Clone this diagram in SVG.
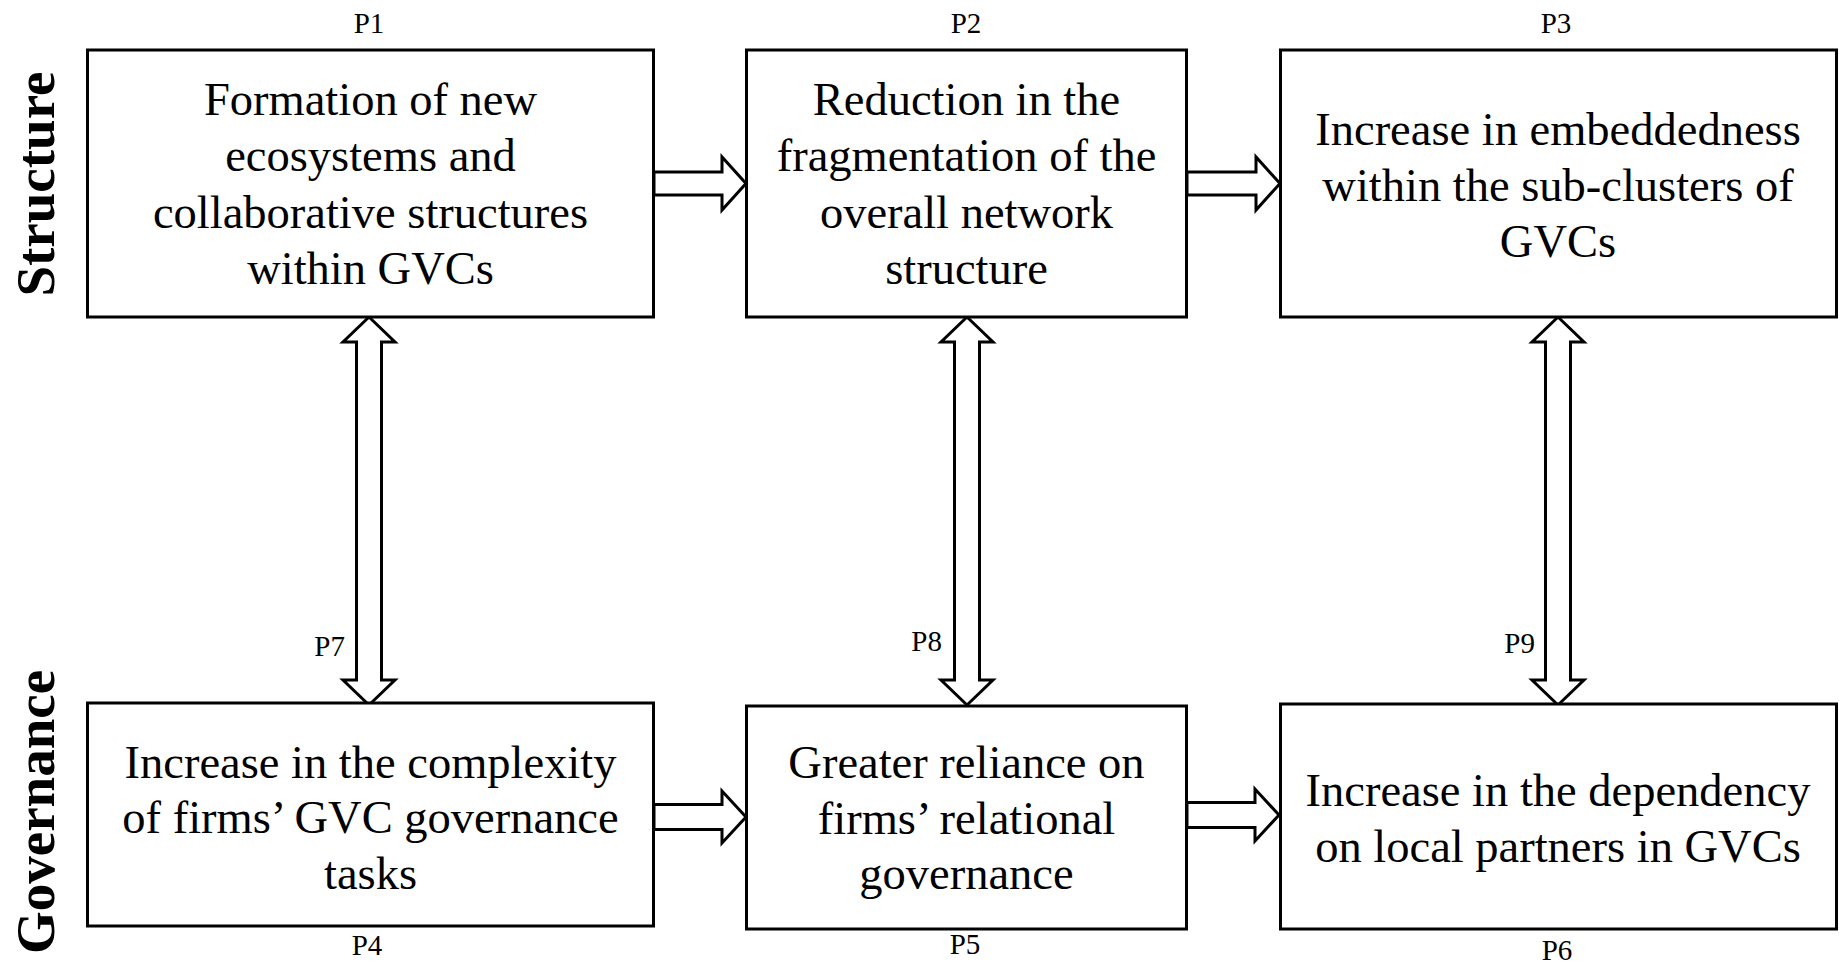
<svg xmlns="http://www.w3.org/2000/svg" width="1839" height="965" viewBox="0 0 1839 965">
<style>
.box{fill:#fff;stroke:#000;stroke-width:3}
.arr{fill:#fff;stroke:#000;stroke-width:3;stroke-linejoin:miter}
.t{font-family:"Liberation Serif","Times New Roman",serif;font-size:46.5px;fill:#000;text-anchor:middle}
.p{font-family:"Liberation Serif","Times New Roman",serif;font-size:29px;fill:#000;text-anchor:middle}
.pr{font-family:"Liberation Serif","Times New Roman",serif;font-size:29px;fill:#000;text-anchor:end}
.side{font-family:"Liberation Serif","Times New Roman",serif;font-size:55px;font-weight:bold;fill:#000;text-anchor:middle}
</style>
<rect width="1839" height="965" fill="#fff"/>
<g id="labels">
<text class="side" transform="translate(54,184) rotate(-90)">Structure</text>
<text class="side" transform="translate(54,812) rotate(-90)">Governance</text>
</g>
<g id="connectors">
<polygon class="arr" points="654,172 722,172 722,157 746,183.5 722,210 722,195 654,195"/>
<polygon class="arr" points="1187,172 1256,172 1256,157 1280,183.5 1256,210 1256,195 1187,195"/>
<polygon class="arr" points="654,804.5 722,804.5 722,791 746,817 722,843 722,829.5 654,829.5"/>
<polygon class="arr" points="1187,802.5 1255,802.5 1255,789 1279,815 1255,841 1255,827.5 1187,827.5"/>
<polygon class="arr" points="369,317 395,342 381.5,342 381.5,680 395,680 369,705 343,680 356.5,680 356.5,342 343,342"/>
<polygon class="arr" points="967,317 993,342 979.5,342 979.5,680 993,680 967,705 941,680 954.5,680 954.5,342 941,342"/>
<polygon class="arr" points="1558,317 1584,342 1570.5,342 1570.5,680 1584,680 1558,705 1532,680 1545.5,680 1545.5,342 1532,342"/>
<text class="pr" x="345" y="656">P7</text>
<text class="pr" x="942" y="651">P8</text>
<text class="pr" x="1535" y="653">P9</text>
</g>
<g id="n1">
<rect class="box" x="87.5" y="50" width="566" height="267"/>
<text class="p" x="369" y="33">P1</text>
<text class="t" x="370.5" y="115">Formation of new</text>
<text class="t" x="370.5" y="171">ecosystems  and</text>
<text class="t" x="370.5" y="228">collaborative structures</text>
<text class="t" x="370.5" y="284">within GVCs</text>
</g>
<g id="n2">
<rect class="box" x="746.5" y="50" width="440" height="267"/>
<text class="p" x="966" y="33">P2</text>
<text class="t" x="966.5" y="115">Reduction in the</text>
<text class="t" x="966.5" y="171">fragmentation of the</text>
<text class="t" x="966.5" y="228">overall network</text>
<text class="t" x="966.5" y="284">structure</text>
</g>
<g id="n3">
<rect class="box" x="1280.5" y="50" width="556" height="267"/>
<text class="p" x="1556" y="33">P3</text>
<text class="t" x="1558" y="145">Increase in embeddedness</text>
<text class="t" x="1558" y="201">within the sub-clusters of</text>
<text class="t" x="1558" y="257">GVCs</text>
</g>
<g id="n4">
<rect class="box" x="87.5" y="703" width="566" height="223"/>
<text class="p" x="367" y="955">P4</text>
<text class="t" x="370.5" y="778">Increase in the complexity</text>
<text class="t" x="370.5" y="833">of firms’ GVC governance</text>
<text class="t" x="370.5" y="889">tasks</text>
</g>
<g id="n5">
<rect class="box" x="746.5" y="706" width="440" height="223"/>
<text class="p" x="965" y="954">P5</text>
<text class="t" x="966.5" y="778">Greater reliance on</text>
<text class="t" x="966.5" y="834">firms’ relational</text>
<text class="t" x="966.5" y="889">governance</text>
</g>
<g id="n6">
<rect class="box" x="1280.5" y="704" width="556" height="225"/>
<text class="p" x="1557" y="960">P6</text>
<text class="t" x="1558" y="806">Increase in the dependency</text>
<text class="t" x="1558" y="862">on local partners in GVCs</text>
</g>
</svg>
